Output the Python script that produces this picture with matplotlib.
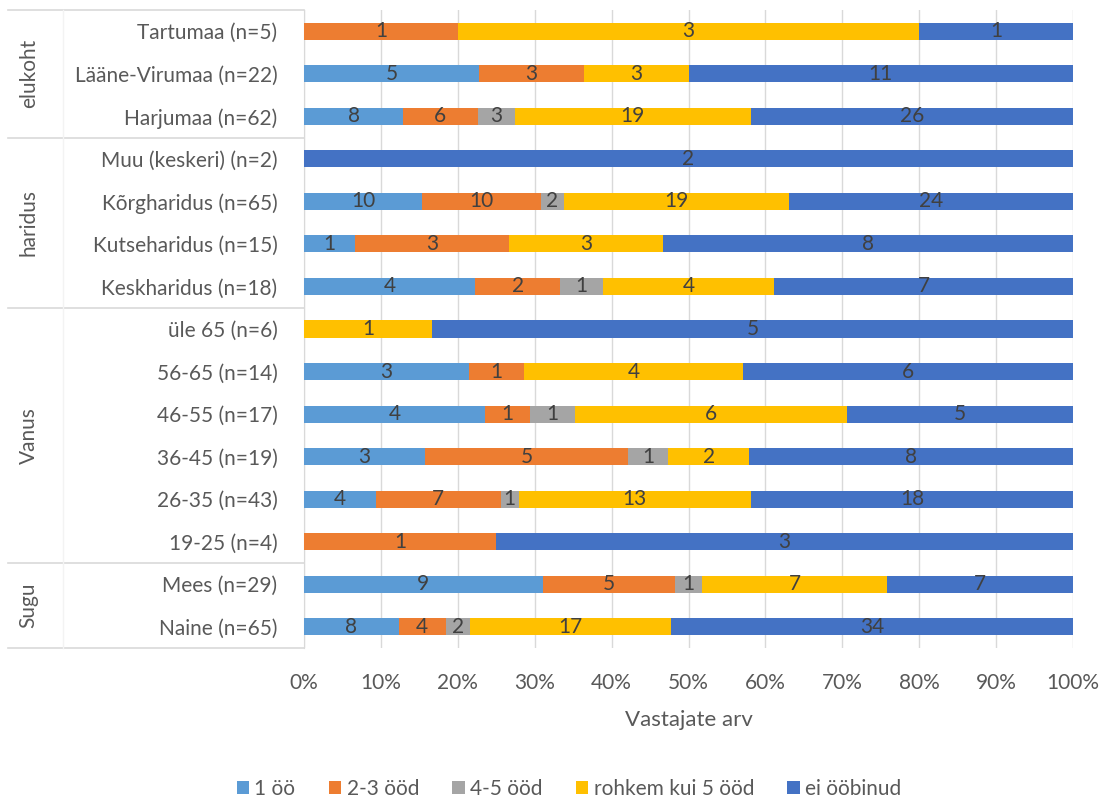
import numpy as np
import matplotlib.pyplot as plt
from matplotlib.ticker import PercentFormatter

plt.rcParams["font.family"] = ["Lato", "DejaVu Sans"]

# rows listed bottom -> top
categories = ["Naine (n=65)", "Mees (n=29)",
              "19-25 (n=4)", "26-35 (n=43)", "36-45 (n=19)", "46-55 (n=17)", "56-65 (n=14)", "üle 65 (n=6)",
              "Keskharidus (n=18)", "Kutseharidus (n=15)", "Kõrgharidus (n=65)", "Muu (keskeri) (n=2)",
              "Harjumaa (n=62)", "Lääne-Virumaa (n=22)", "Tartumaa (n=5)"]
series = ["1 öö", "2-3 ööd", "4-5 ööd", "rohkem kui 5 ööd", "ei ööbinud"]
one_night = [8, 9, 0, 4, 3, 4, 3, 0, 4, 1, 10, 0, 8, 5, 0]
two_three = [4, 5, 1, 7, 5, 1, 1, 0, 2, 3, 10, 0, 6, 3, 1]
four_five = [2, 1, 0, 1, 1, 1, 0, 0, 1, 0, 2, 0, 3, 0, 0]
more_five = [17, 7, 0, 13, 2, 6, 4, 1, 4, 3, 19, 0, 19, 3, 3]
no_stay = [34, 7, 3, 18, 8, 5, 6, 5, 7, 8, 24, 2, 26, 11, 1]
groups = [("Sugu", 0, 1), ("Vanus", 2, 7), ("haridus", 8, 11), ("elukoht", 12, 14)]

colors = ["#5B9BD5", "#ED7D31", "#A5A5A5", "#FFC000", "#4472C4"]
TXT = "#595959"
FS = 15

counts = np.array([one_night, two_three, four_five, more_five, no_stay], dtype=float)
totals = counts.sum(axis=0)
shares = counts / totals

fig = plt.figure(figsize=(11.05, 7.99), dpi=100)
ax = fig.add_axes([304 / 1105, 1 - 648 / 799, 769 / 1105, 638 / 799])
y = np.arange(len(categories))
left = np.zeros(len(categories))
for k in range(len(series)):
    bars = ax.barh(y, shares[k], left=left, height=0.4, color=colors[k], label=series[k], zorder=3)
    for i, b in enumerate(bars):
        if counts[k, i] > 0:
            ax.text(left[i] + shares[k, i] / 2, y[i], "%d" % counts[k, i], ha="center", va="center",
                    fontsize=FS, color="#404040", zorder=4)
    left += shares[k]

ax.set_xlim(0, 1)
ax.set_ylim(-0.5, len(categories) - 0.5)
ax.xaxis.set_major_formatter(PercentFormatter(1.0, decimals=0))
ax.set_xticks(np.linspace(0, 1, 11))
ax.set_yticks(y)
ax.set_yticklabels(categories)
ax.tick_params(axis="both", length=0, labelsize=FS, colors=TXT)
ax.tick_params(axis="y", pad=19)
ax.tick_params(axis="x", pad=18)
ax.grid(axis="x", color="#D9D9D9", lw=1, zorder=0)
for s in ["top", "right", "bottom"]:
    ax.spines[s].set_visible(False)
ax.spines["left"].set_color("#D9D9D9")
ax.set_xlabel("Vastajate arv", fontsize=16, color=TXT, labelpad=12)

# category table on the left
x0 = -0.385
trans = ax.get_yaxis_transform()
for yy in [-0.5, 1.5, 7.5, 11.5, len(categories) - 0.5]:
    ax.plot([x0, 0], [yy, yy], transform=trans, color="#D9D9D9", lw=1.2, clip_on=False)
ax.plot([-0.314, -0.314], [-0.5, len(categories) - 0.5], transform=trans, color="#F3F3F3", lw=1, clip_on=False)
for name, a, b in groups:
    ax.text(-0.358, (a + b) / 2, name, transform=trans, rotation=90, ha="center", va="center",
            fontsize=FS, color=TXT)

fig.legend(loc="center", bbox_to_anchor=(0.515, 0.013), ncol=5, frameon=False, fontsize=FS,
           handlelength=0.6, handleheight=0.6, handletextpad=0.25, columnspacing=1.6, labelcolor=TXT)

fig.savefig("out.png", dpi=100)
